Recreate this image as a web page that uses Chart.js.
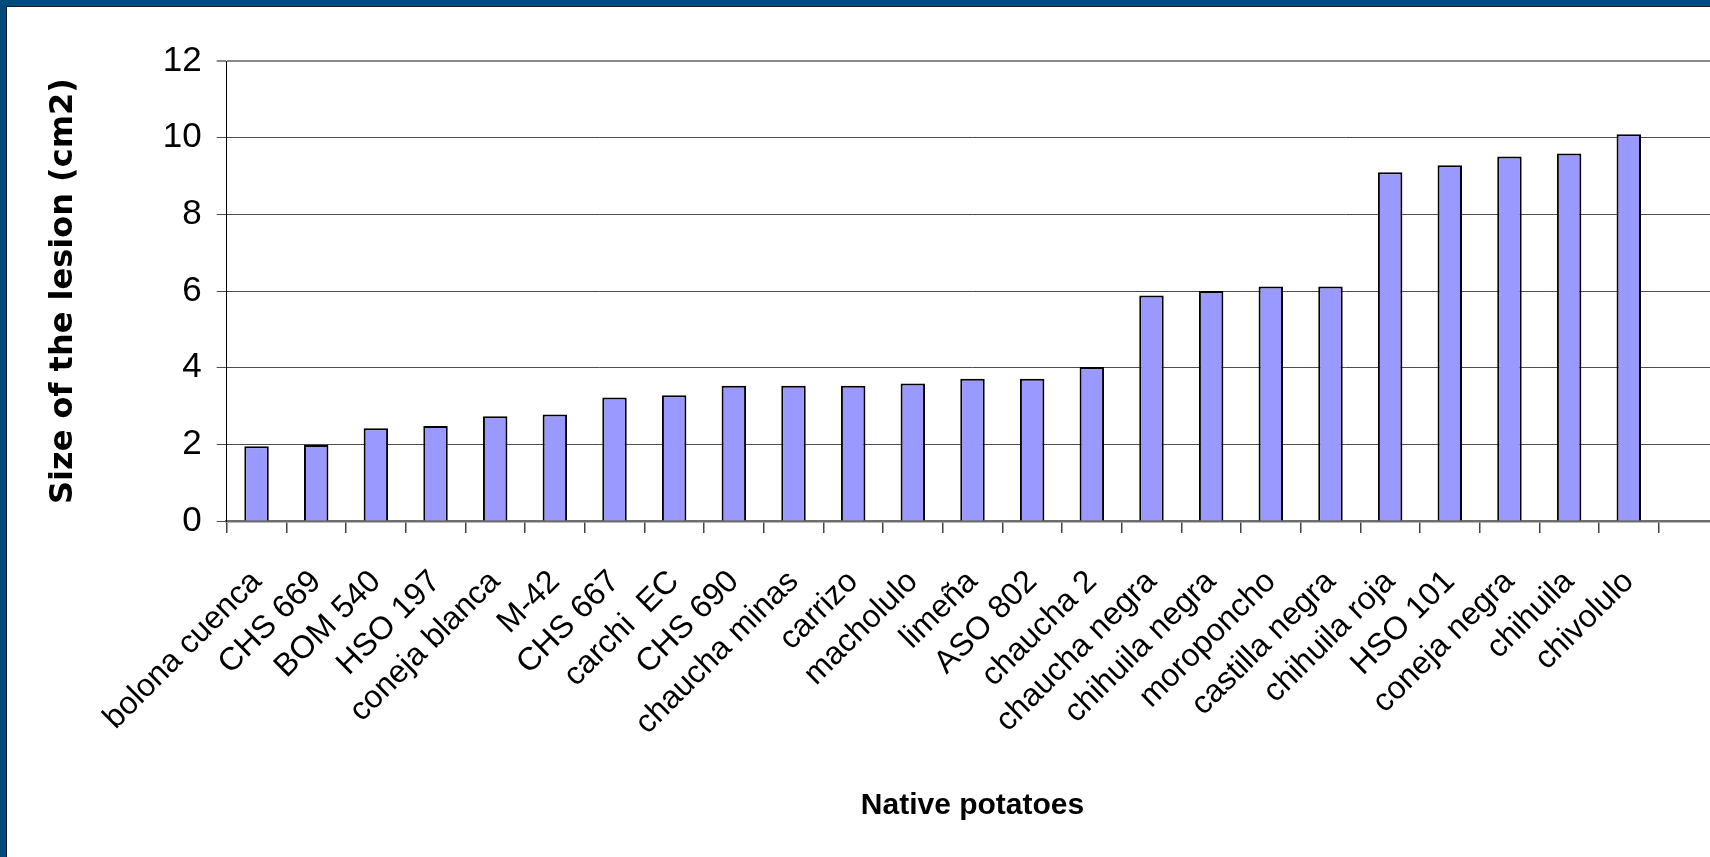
<!DOCTYPE html>
<html>
<head>
<meta charset="utf-8">
<script src="https://cdn.jsdelivr.net/npm/chart.js@4/dist/chart.umd.min.js"></script>
<style>
    html, body { margin: 0; padding: 0; background: #fff; overflow: hidden; }
    body { width: 1710px; height: 857px; position: relative; }
    .frame-blue { position: absolute; left: 0; top: 0; width: 1710px; height: 857px;
        border-top: 6px solid #004b7c; border-left: 6px solid #004b7c; box-sizing: border-box; }
    .frame-dark { position: absolute; left: 6px; top: 6px; right: 0; bottom: 0;
        border-top: 1px solid #1c1c1c; border-left: 1px solid #1c1c1c; }
    #chart { position: absolute; left: 7px; top: 7px; }
</style>
</head>
<body>
<div class="frame-blue"></div>
<div class="frame-dark"></div>
<canvas id="chart" width="1739" height="850"></canvas>
<script>
const categories = [
    'bolona cuenca', 'CHS 669', 'BOM 540', 'HSO 197', 'coneja blanca', 'M-42',
    'CHS 667', 'carchi  EC', 'CHS 690', 'chaucha minas', 'carrizo', 'macholulo',
    'limeña', 'ASO 802', 'chaucha 2', 'chaucha negra', 'chihuila negra', 'moroponcho',
    'castilla negra', 'chihuila roja', 'HSO 101', 'coneja negra', 'chihuila', 'chivolulo'
]
const lesionSize = [
    1.95, 1.98, 2.42, 2.48, 2.73, 2.78,
    3.22, 3.28, 3.53, 3.53, 3.53, 3.59,
    3.71, 3.71, 4.02, 5.88, 6.00, 6.12,
    6.12, 9.10, 9.28, 9.51, 9.59, 10.09
]
const yTicks = [0, 2, 4, 6, 8, 10, 12]

const xTitle = 'Native potatoes'
const yTitle = 'Size of the lesion (cm2)'

// the original plot runs one empty slot past the right edge of the slide
const axisLabels = [...categories, '']

const narrow = '"Liberation Sans Narrow", "Arial Narrow", "Liberation Sans", Arial, sans-serif'

new Chart(document.getElementById('chart').getContext('2d'), {
    type: 'bar',
    data: {
        labels: axisLabels,
        datasets: [{
            data: lesionSize,
            backgroundColor: '#9999ff',
            borderColor: '#000000',
            borderWidth: 2,
            barPercentage: 0.41,
            categoryPercentage: 1
        }]
    },
    options: {
        responsive: false,
        animation: false,
        events: [],
        layout: { padding: { left: 0, top: 54, right: 20, bottom: 0 } },
        plugins: {
            legend: { display: false },
            tooltip: { enabled: false }
        },
        scales: {
            x: {
                offset: true,
                afterFit: scale => { scale.height = 336 },
                grid: {
                    offset: true,
                    drawOnChartArea: false,
                    tickLength: 12,
                    color: '#444',
                    lineWidth: 1.5
                },
                border: { color: '#6e6e6e', width: 2.5 },
                ticks: {
                    autoSkip: false,
                    maxRotation: 45,
                    minRotation: 45,
                    padding: 30,
                    color: '#000',
                    font: { family: narrow, size: 32 }
                },
                title: {
                    display: true,
                    text: xTitle,
                    color: '#000',
                    padding: { top: 0, bottom: 33 },
                    font: { family: narrow, size: 30, weight: 'bold' }
                }
            },
            y: {
                min: 0,
                max: 12,
                afterFit: scale => { scale.width = 219.7 },
                afterBuildTicks: scale => { scale.ticks = yTicks.map(v => ({ value: v })) },
                grid: {
                    tickLength: 10,
                    color: ctx => ctx.tick && ctx.tick.value === 12 ? '#8a8a8a' : '#4d4d4d',
                    lineWidth: ctx => ctx.tick && ctx.tick.value === 12 ? 2 : 1
                },
                border: { color: '#000', width: 1 },
                ticks: {
                    padding: 15,
                    color: '#000',
                    font: { family: narrow, size: 35 }
                },
                title: {
                    display: true,
                    text: yTitle,
                    color: '#000',
                    padding: { top: 37, bottom: 0 },
                    font: { family: '"DejaVu Sans", sans-serif', size: 32, weight: 'bold' }
                }
            }
        }
    }
})
</script>
</body>
</html>
